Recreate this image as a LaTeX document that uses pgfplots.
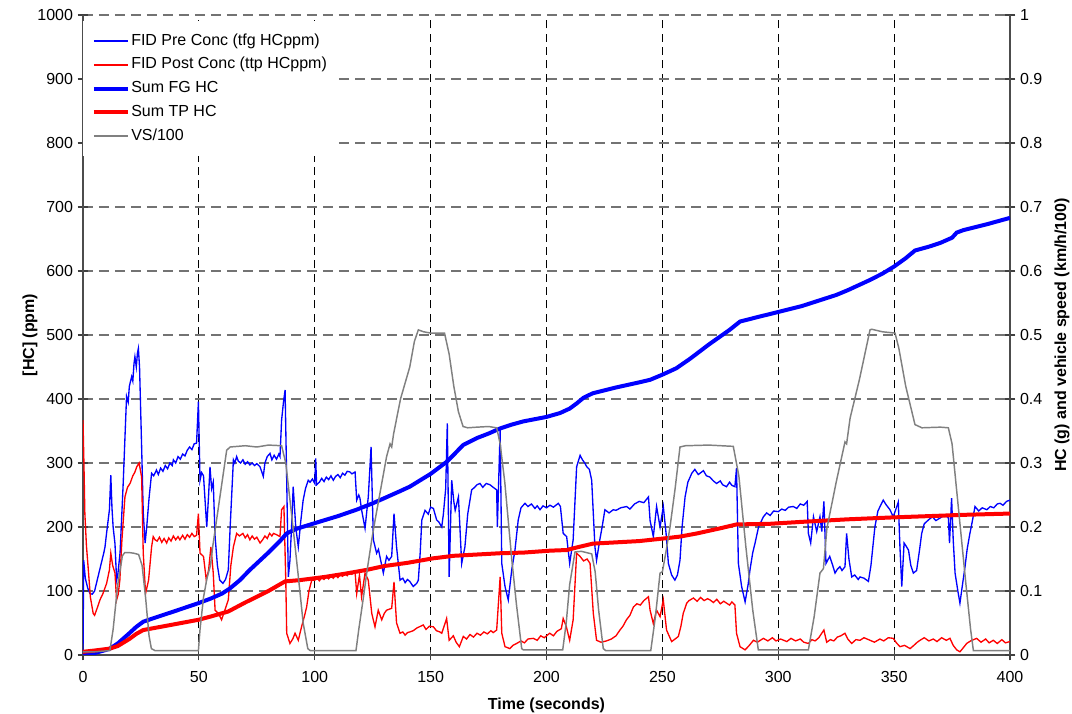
\documentclass[border=0pt]{standalone}
\usepackage{fontspec}
\setmainfont{Liberation Sans}
\usepackage{pgfplots}
\pgfplotsset{compat=1.18}
\usepackage{pgfplotstable}

\pgfplotstableread{
t v
0 0
0.3 148
1 120
2 105
3 96
4 95
5 100
6 115
7 130
8 145
9 160
9.5 169
10 185
11 215
11.4 227
12 281
12.5 230
13 200
13.8 174
14.5 117
15 125
16 160
17 240
17.4 273
18 330
18.8 404
19.5 395
20 420
21 435
21.5 428
22 455
22.4 466
23 450
23.5 472
23.9 479
24.4 450
25.3 325
26 222
26.8 175
27.5 200
28.5 245
29.6 284
30.5 280
31.7 289
32.5 282
33.5 292
34.5 287
35.5 296
36.5 291
37.5 300
38.5 296
39 305
40 300
41 310
42 306
43 314
44 311
45 320
46 325
47 321
48 330
49 331
49.8 396
50.5 273
51.2 285
52 280
53.4 200
54.2 250
54.8 294
55.5 260
56.2 270
57 185
58 140
59 117
60.4 112
61.5 118
62.7 133
63.5 200
64.9 305
65.5 300
66.3 310
67 303
68 300
69 305
70 298
71 302
72 297
73 300
74 296
75 299
76.4 294
77.8 279
78.5 300
79.5 310
80.7 315
81.5 305
82.5 312
83.5 306
84.5 314
85 310
85.7 367
86.5 395
87.2 414
87.9 273
88.6 122
89.3 148
90 200
90.7 263
91.8 200
92.9 169
94 210
95 242
96 260
97.2 273
98 270
99 275
100 268
100.4 307
100.8 266
102 270
103 276
104 271
105 278
106 274
107 280
108 273
109 279
110 282
111 277
112 284
113 281
114 287
115.2 286
116 283
117.4 286
118.1 242
119 250
119.5 245
120.2 227
121.7 198
123.1 247
124.3 325
125.3 180
126.7 159
127.5 165
128.1 154
129.6 128
131 154
132 148
133.2 154
134.2 221
135.3 169
136.8 117
138 120
139 113
140 118
141 115
142.5 107
144 112
144.7 117
145.5 160
146.2 211
147.6 226
149 220
150 231
151.2 229
152.6 211
153.5 208
154.8 200
155.5 220
156.5 260
157.2 362
158 122
159.1 273
160 240
160.6 226
162 247
163.4 143
164.8 169
166 220
167.7 258
169 262
170 266
171.3 268
172.5 262
174 268
175.6 266
177 262
178.5 258
178.8 200
180 352
180.7 143
182.1 107
183.5 86
185 133
186.4 164
187.8 211
189 230
190.7 237
192 232
193.5 236
195 229
196 233
197.2 227
198.5 233
200 230
201.5 234
203 231
205.1 237
206 232
207.2 190
208.7 185
210 143
211.5 180
213 294
214.5 312
215.5 305
216.5 300
217.4 294
218.5 290
219.5 273
220.9 169
221.6 148
223 180
224 200
225.2 227
227 222
228.8 227
230 226
232 230
234.6 232
236 228
238 236
240 240
242 238
244 247
244.7 210
246.1 185
247.5 232
249 200
250.4 232
251.6 190
252.6 143
254 125
255.4 117
256.5 125
257.6 148
258.5 200
259.8 247
261 270
262.7 284
264 290
265.5 282
267.7 288
269 280
270.5 278
272 272
273.4 268
275 272
276 266
277.7 263
279 270
280 265
281.3 263
282 292
282.8 143
284.2 107
285.7 83
287 110
287.8 133
289 160
290 175
291.5 200
293.6 216
295 222
296.5 218
298 225
300 224
301.5 228
303 226
304.5 231
306.5 232
308 229
309.5 236
311 234
312.5 240
313 190
314 175
315.2 216
316.6 193
318 216
318.8 193
319.7 240
320.6 143
322.2 154
323.5 140
324.5 128
325.5 134
326.6 138
327.5 132
328.8 138
329.5 190
330.5 150
331.7 122
333 125
334.5 118
335.3 122
337 120
338.9 115
340 140
341.7 200
343 225
345.3 242
346.5 235
348.2 227
349.6 216
350.5 225
351.8 239
352.5 170
353.3 107
354.3 175
355.2 170
356.2 164
357.2 140
358.3 128
359.7 132
361 165
361.9 190
363 205
364.8 211
366.5 216
368 210
369.8 214
371.5 218
373.4 215
373.9 175
374.8 245
375.5 180
376.3 128
377.5 100
378.4 81
379.5 110
380.6 138
381.5 165
382.7 190
383.8 210
384.9 232
386.5 225
388 230
390 227
391.5 232
393 230
394.5 236
395.7 237
397 234
398.5 240
400 242
}\fidpre

\pgfplotstableread{
t v
0 367
0.4 300
0.8 221
1.5 170
2.3 133
3.2 90
4.4 65
5 62
6 72
7.3 86
8.5 95
10.2 112
11.4 133
12 159
12.8 140
13.8 128
14.5 86
15.2 95
15.9 117
16.8 180
18.1 247
19.2 262
20.3 268
21.5 280
22.3 285
23.2 294
24.2 300
25.3 278
26 159
27 96
28.3 117
29.6 169
30.3 185
31.1 180
32 178
33 184
34 176
35 182
36.1 175
37 183
38 178
39 186
40 180
41 185
41.8 180
43 187
44 181
45 188
46 184
47 190
48 185
49 187
49.8 221
50.5 159
52 154
53.2 117
54.2 133
55.2 169
56.2 128
57 70
58.4 65
59.8 55
61.2 70
62.7 86
63.8 140
64.9 169
66.3 190
67.5 186
69 190
70 183
71 188
72 180
73 186
74 181
75 184
76.4 175
77.5 180
78.5 186
79.5 182
80.5 190
81.5 186
82.2 190
83.5 188
85 185
85.7 227
86.7 232
87.5 117
87.9 34
89.3 18
90.5 25
91.5 34
92.9 23
94.3 44
95.5 60
96.5 75
97.5 100
98.7 117
100 117
101 120
102 116
103 121
104 118
105 122
106 119
107 124
108 120
109 125
110 121
111 126
112 123
113 127
114 124
115 129
116 126
117.4 130
118.1 96
119.3 125
120.2 91
121.7 128
123.1 117
124.6 65
126 44
127.4 70
128.9 55
130 65
131 70
133.2 73
134.2 114
135.3 50
136.8 34
138 36
139 31
140 35
141 36
142.5 38
144 42
146.8 47
148 40
149.5 45
151.2 44
152.5 38
154 36
154.8 34
156.9 57
158 23
159.8 30
161 20
162.4 13
164.1 29
165.5 25
167 32
168.5 28
170 34
171.5 31
173 36
174.5 33
176 38
177 35
178.5 39
180 122
180.7 34
182.1 13
184.2 10
185.5 15
187.1 18
189 22
190.5 19
192 25
194.3 26
196 23
197.5 30
199 27
201.4 34
203 30
204.5 37
206.4 41
207.2 57
208.5 45
210 23
211.5 55
213 159
214.5 154
216 147
217.5 150
218.8 143
220.2 65
221.6 23
223.5 20
225.9 22
228 25
230 30
231.7 39
233 45
234.5 55
236 62
237.5 75
239 80
240.5 78
242 85
244 91
244.7 70
246.1 49
247.5 70
249 60
250.4 86
251.8 39
254 21
255.5 25
256.9 29
258 45
259 65
260.5 81
261.5 85
263.4 89
265 84
266.5 90
268 85
269.5 88
270.6 86
272 82
273.5 87
275 80
276.5 84
277.7 81
279 78
280 83
281.3 78
282 34
283.5 13
285.7 8
287.5 15
289.3 23
291 20
293.6 26
295.5 22
297.5 27
299 22
301 25
303.7 21
305.5 26
307.5 22
309.5 25
311 20
313 18
314.5 24
315.9 22
317.5 27
319.7 39
320.9 20
322.5 24
324 22
325.5 28
327 30
328.8 34
330 25
331.7 18
333.5 24
335.3 23
337 27
339.6 23
341.5 20
343.9 25
345.5 22
347.5 27
349.6 26
351 19
352.5 13
354.5 15
356.9 10
358.5 15
360 20
361.2 23
363 27
365 22
366.9 25
368.5 21
370.5 27
372.5 23
374.1 26
375.5 15
377 8
378.4 5
380 12
381.3 18
383 22
385.6 26
387.5 20
389.5 25
391 19
392.8 23
394.5 18
396.5 24
398 19
400 21
}\fidpost

\pgfplotstableread{
t v
0 0
5 0.003
10 0.008
11.6 0.01
15 0.018
20 0.034
23 0.044
26 0.052
30 0.057
40 0.069
49.8 0.081
55 0.088
60 0.096
63.4 0.104
67.7 0.117
72 0.133
80 0.160
85 0.178
87.9 0.19
92 0.197
100 0.206
110 0.217
118 0.227
125 0.237
130 0.245
136.8 0.256
141 0.263
150 0.283
157 0.302
160 0.313
164 0.328
170 0.339
175 0.346
180 0.354
185 0.360
190 0.365
200 0.372
205.8 0.378
210 0.385
213 0.393
216 0.402
220 0.409
230 0.418
240 0.426
244.7 0.43
250 0.438
256 0.448
262 0.463
270 0.485
279 0.508
283.5 0.521
290 0.527
300 0.536
310 0.545
316 0.552
325 0.5625
330 0.570
339.6 0.586
345 0.596
350 0.607
355 0.620
359 0.632
365 0.638
370 0.644
375 0.652
377 0.660
380 0.664
390 0.673
400 0.683
}\sumfg

\pgfplotstableread{
t v
0 0.005
5 0.007
11.6 0.01
15 0.014
20 0.025
23 0.033
26 0.039
35 0.045
49.8 0.055
55 0.060
62.7 0.068
70 0.082
80 0.100
87.2 0.115
93.6 0.117
104.4 0.122
113 0.127
122.4 0.133
130 0.139
140 0.144
151 0.151
160 0.155
170 0.157
180 0.159
190 0.160
201.5 0.163
208.7 0.164
213 0.168
220 0.174
230 0.176
240 0.178
250.4 0.182
257.6 0.185
265 0.190
275 0.198
282 0.204
296.4 0.205
310 0.208
330 0.212
349.6 0.215
365 0.217
380 0.219
400 0.221
}\sumtp

\pgfplotstableread{
t v
0 0.005
5 0.005
11.6 0.007
13 0.04
15 0.11
17 0.155
18 0.16
20 0.16
22 0.159
24 0.157
25.5 0.14
27 0.09
28.5 0.03
29.5 0.01
31 0.007
49.8 0.007
50.5 0.04
52 0.09
53.5 0.12
55 0.14
56 0.17
58 0.22
60 0.27
62 0.32
63.5 0.325
70 0.327
75 0.325
80 0.328
85.7 0.327
87.5 0.3
90 0.22
93 0.12
95 0.05
97 0.01
98 0.007
117.8 0.007
119 0.04
121 0.09
122.5 0.13
124.6 0.18
126 0.21
128 0.25
131 0.31
132.5 0.33
133.2 0.325
134 0.345
137 0.40
141 0.45
143 0.49
144.7 0.508
147 0.505
150 0.503
156 0.503
158 0.47
160 0.42
162 0.38
164 0.357
166 0.355
170 0.356
175 0.357
178.5 0.355
180 0.33
182 0.27
185 0.15
187 0.08
189.3 0.01
190 0.008
207 0.008
208.5 0.05
210 0.11
212.3 0.161
215 0.162
219.5 0.158
221 0.13
222.5 0.07
224.5 0.01
225.5 0.007
245 0.007
247 0.06
249 0.128
250 0.13
251.5 0.16
253.3 0.2
255.5 0.26
257.6 0.325
260 0.327
270 0.328
280.6 0.326
283 0.28
286 0.17
289 0.07
291.4 0.008
313 0.008
315.5 0.06
318 0.128
319.5 0.135
321 0.198
325 0.27
328.8 0.333
329.5 0.33
331 0.37
335 0.43
339.6 0.508
340.3 0.509
345 0.505
350.4 0.503
352 0.48
355 0.42
359 0.36
362 0.355
370 0.356
373.4 0.355
375 0.33
378 0.22
381 0.11
383 0.04
384.2 0.007
400 0.007
}\vs

\newcommand{\chartfont}{\fontsize{12}{14}\selectfont}

\begin{document}
\begin{tikzpicture}
\useasboundingbox (-62.25pt,-44.25pt) rectangle (741.75pt,491.25pt);
% primary axis: left scale [HC] (ppm), grid
\begin{axis}[
  at={(0pt,0pt)}, anchor=south west,
  scale only axis, width=695.25pt, height=480pt,
  xmin=0, xmax=400, ymin=0, ymax=1000,
  xtick={0,50,100,150,200,250,300,350,400},
  ytick={0,100,200,300,400,500,600,700,800,900,1000},
  axis x line*=bottom, axis y line*=left,
  axis line style={black!70, line width=0.8pt},
  tick style={black!75, line width=0.8pt},
  tick align=center, major tick length=8pt,
  grid=major,
  x grid style={black, line width=0.7pt, dash pattern=on 6pt off 4pt},
  y grid style={black!55, line width=1.1pt, dash pattern=on 7.5pt off 4.5pt},
  tick label style={font=\chartfont},
  /pgf/number format/assume math mode=true,
  xticklabel style={yshift=-5pt},
  scaled ticks=false,
  yticklabel style={/pgf/number format/1000 sep={}},
  xlabel={\bfseries Time (seconds)},
  ylabel={\bfseries [HC] (ppm)},
  label style={font=\chartfont},
  xlabel style={at={(axis description cs:0.5,0)}, anchor=center, yshift=-37.5pt},
  ylabel style={at={(axis description cs:0,0.5)}, anchor=center, yshift=39.75pt},
]
\end{axis}
% secondary axis: right scale; FID series (ppm) mapped by /1000 onto same height
\begin{axis}[
  at={(0pt,0pt)}, anchor=south west,
  scale only axis, width=695.25pt, height=480pt,
  xmin=0, xmax=400, ymin=0, ymax=1,
  axis x line=none, axis y line*=right,
  axis line style={black!70, line width=0.8pt},
  tick style={black!75, line width=0.8pt},
  tick align=center, major tick length=8pt,
  ytick={0,0.1,0.2,0.3,0.4,0.5,0.6,0.7,0.8,0.9,1},
  yticklabels={0,0.1,0.2,0.3,0.4,0.5,0.6,0.7,0.8,0.9,1},
  tick label style={font=\chartfont},
  ylabel={\bfseries HC (g) and vehicle speed (km/h/100)},
  label style={font=\chartfont},
  ylabel style={at={(axis description cs:1,0.5)}, anchor=center, yshift=-39pt},
  legend cell align=left,
  legend image code/.code={\draw[#1] (0pt,0pt) -- (25.5pt,0pt);},
  legend style={at={(axis description cs:0,1)}, anchor=north west,
    yshift=-4.5pt, draw=none, fill=white, font=\chartfont,
    inner xsep=6.5pt, inner ysep=8pt, row sep=3.8pt,
    nodes={inner sep=1pt, text height=9pt, text depth=3pt}},
]
\addplot[blue, line width=1pt, legend image post style={line width=1.5pt, draw=blue}] table[x=t, y expr=\thisrow{v}/1000] {\fidpre};
\addlegendentry{FID Pre Conc (tfg HCppm)}
\addplot[red, line width=1pt, legend image post style={line width=1.2pt}] table[x=t, y expr=\thisrow{v}/1000] {\fidpost};
\addlegendentry{FID Post Conc (ttp HCppm)}
\addplot[blue, line width=3pt] table[x=t,y=v] {\sumfg};
\addlegendentry{Sum FG HC}
\addplot[red, line width=3pt] table[x=t,y=v] {\sumtp};
\addlegendentry{Sum TP HC}
\addplot[gray, line width=1.1pt] table[x=t,y=v] {\vs};
\addlegendentry{VS/100}
\end{axis}
\end{tikzpicture}
\end{document}
